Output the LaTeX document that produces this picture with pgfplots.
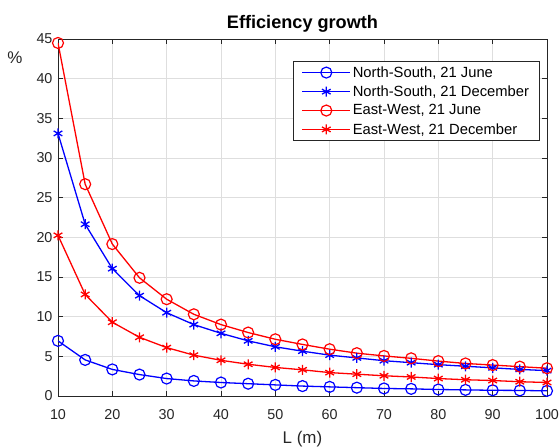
\documentclass[border=0pt]{standalone}
\usepackage{pgfplots}
\pgfplotsset{compat=1.18}
\usepackage{pgfplotstable}
\usepackage{fontspec}
\setmainfont{Liberation Sans}
\definecolor{axgray}{gray}{0.15}
\definecolor{gridgray}{gray}{0.87}

\pgfplotstableread{
L   nsj   nsd    ewj    ewd
10  6.95  33.1   44.5   20.25
15  4.55  21.65  26.7   12.8
20  3.35  16.05  19.15  9.3
25  2.7   12.65  14.9   7.4
30  2.2   10.5   12.2   6.1
35  1.9   9.0    10.3   5.15
40  1.7   7.9    9.0    4.5
45  1.55  6.95   8.0    4.0
50  1.4   6.2    7.15   3.6
55  1.25  5.65   6.5    3.3
60  1.15  5.15   5.9    2.95
65  1.05  4.8    5.4    2.75
70  0.95  4.45   5.05   2.55
75  0.9   4.2    4.75   2.4
80  0.82  3.95   4.4    2.2
85  0.77  3.75   4.1    2.05
90  0.72  3.55   3.9    1.95
95  0.7   3.35   3.7    1.8
100 0.65  3.2    3.5    1.7
}\datatable

\begin{document}
\begin{tikzpicture}
\useasboundingbox (-58bp,-52bp) rectangle (501bp,396bp);
\begin{axis}[
  at={(0,0)}, anchor=south west,
  scale only axis,
  width=489bp, height=357bp,
  xmin=10, xmax=100, ymin=0, ymax=45,
  xtick={10,20,...,100},
  ytick={0,5,...,45},
  tick align=inside,
  major tick length=5bp,
  axis line style={axgray, line width=0.7bp},
  tick style={axgray, line width=0.7bp},
  grid=major,
  major grid style={gridgray, line width=0.6bp},
  /pgf/number format/assume math mode=true,
  tick label style={font=\fontsize{14.4}{16}\selectfont, text=axgray},
  xticklabel style={yshift=-10bp},
  yticklabel style={xshift=-2bp},
  title={Efficiency growth},
  title style={at={(0.5,1)}, anchor=center, yshift=9bp, font=\bfseries\fontsize{18.2}{20}\selectfont},
  xlabel={L (m)},
  xlabel style={at={(0.5,0)}, anchor=center, yshift=-43bp, font=\fontsize{17}{19}\selectfont, text=axgray},
  ylabel={\%},
  ylabel style={at={(rel axis cs:-0.088,0.947)}, rotate=-90, anchor=center, font=\fontsize{17}{19}\selectfont, text=axgray},
  legend style={at={(0.9836,0.937)}, anchor=north east, draw=axgray,
    font=\fontsize{14.8}{16}\selectfont, row sep=3.3bp, inner xsep=8bp, inner ysep=3bp,
    nodes={inner sep=1.8bp},
    every odd column/.style={column sep=2bp}},
  legend cell align=left,
  legend image code/.code={\draw[mark repeat=2,mark phase=2] plot coordinates {(0bp,0bp)(24bp,0bp)(48bp,0bp)};},
]
\addplot[blue, line width=1.3bp, mark=o, mark size=5.5bp, mark options={line width=1.2bp}] table[x=L,y=nsj] {\datatable};
\addlegendentry{North-South, 21 June}
\addplot[blue, line width=1.3bp, mark=asterisk, mark size=5bp, mark options={line width=1.3bp}] table[x=L,y=nsd] {\datatable};
\addlegendentry{North-South, 21 December}
\addplot[red, line width=1.3bp, mark=o, mark size=5.5bp, mark options={line width=1.2bp}] table[x=L,y=ewj] {\datatable};
\addlegendentry{East-West, 21 June}
\addplot[red, line width=1.3bp, mark=asterisk, mark size=5bp, mark options={line width=1.3bp}] table[x=L,y=ewd] {\datatable};
\addlegendentry{East-West, 21 December}
\end{axis}
\end{tikzpicture}
\end{document}
